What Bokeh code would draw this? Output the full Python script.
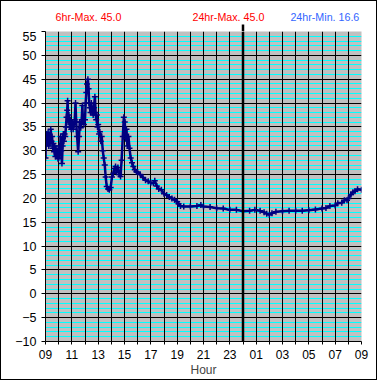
from bokeh.plotting import figure
from bokeh.models import FixedTicker, Arrow, ColumnDataSource
from bokeh.layouts import column
from bokeh.core.properties import value
from bokeh.embed import file_html
from bokeh.resources import INLINE

# Hours since 00:00 of day 1 (09 -> 33 = 09 next day)
hours = [9.00, 9.03, 9.07, 9.10, 9.15, 9.20, 9.25, 9.30, 9.35, 9.40, 9.45, 9.50, 9.55, 9.60,
         9.65, 9.70, 9.75, 9.80, 9.85, 9.90, 9.95, 10.00, 10.05, 10.10, 10.15, 10.20, 10.25,
         10.30, 10.35, 10.40, 10.45, 10.50, 10.55, 10.60, 10.65, 10.68, 10.72, 10.78, 10.85,
         10.90, 10.95, 11.00, 11.05, 11.10, 11.15, 11.22, 11.28, 11.33, 11.40, 11.48, 11.55,
         11.60, 11.68, 11.75, 11.80, 11.85, 11.92, 12.00, 12.05, 12.10, 12.15, 12.22, 12.27,
         12.32, 12.37, 12.42, 12.48, 12.55, 12.62, 12.68, 12.75, 12.80, 12.85, 12.90, 12.95,
         13.00, 13.07, 13.13, 13.20, 13.27, 13.35, 13.42, 13.50, 13.57, 13.65, 13.75, 13.85,
         13.95, 14.05, 14.15, 14.25, 14.32, 14.40, 14.50, 14.60, 14.70, 14.78, 14.87, 14.95,
         15.02, 15.08, 15.15, 15.22, 15.30, 15.38, 15.47, 15.57, 15.67, 15.78, 15.90, 16.00,
         16.20, 16.40, 16.60, 16.80, 17.00, 17.20, 17.30, 17.45, 17.60, 17.80, 18.00, 18.20,
         18.40, 18.60, 18.80, 19.00, 19.10, 19.25, 19.50, 20.00, 20.50, 20.80, 21.00, 21.50,
         22.00, 22.50, 23.00, 23.50, 24.00, 24.50, 24.90, 25.30, 25.60, 25.80, 26.00, 26.20,
         26.50, 27.00, 27.50, 28.00, 28.50, 29.00, 29.50, 30.00, 30.30, 30.60, 31.00, 31.20,
         31.50, 31.70, 31.90, 32.00, 32.20, 32.35, 32.50, 32.70, 33.00]
temps = [28.5, 33.0, 32.0, 33.5, 31.5, 33.8, 31.0, 32.5, 31.5, 34.5, 32.0, 33.0, 30.5, 31.5,
         29.8, 31.0, 28.8, 30.5, 29.0, 30.0, 28.3, 28.5, 31.0, 29.0, 33.0, 30.0, 27.3,
         31.0, 33.5, 32.0, 33.5, 33.0, 35.0, 37.0, 38.5, 40.5, 36.0, 37.5, 35.0,
         36.5, 34.5, 35.0, 36.0, 34.5, 35.5, 36.5, 40.0, 36.0, 33.0, 29.8, 33.0,
         36.0, 34.8, 36.5, 39.5, 36.0, 35.5, 36.5, 40.0, 42.2, 44.0, 45.0, 43.0,
         40.0, 39.0, 38.0, 40.0, 38.0, 37.5, 39.0, 41.3, 38.0, 36.5, 37.5, 35.0,
         35.5, 33.5, 34.0, 32.0, 33.0, 30.0, 28.5, 27.0, 24.5, 22.5, 22.0, 21.8,
         22.3, 24.5, 25.3, 26.3, 26.7, 25.5, 26.5, 25.0, 24.6, 28.0, 33.0, 37.0,
         36.0, 32.5, 34.5, 31.0, 33.0, 30.5, 28.5, 27.5, 26.7, 26.0, 25.6, 25.5,
         25.0, 24.4, 23.8, 23.6, 23.3, 23.2, 23.7, 22.6, 22.0, 21.8, 21.0, 20.7,
         20.3, 20.0, 19.7, 19.3, 18.9, 18.4, 18.3, 18.3, 18.4, 18.6, 18.3, 18.2,
         17.95, 17.9, 17.6, 17.6, 17.3, 17.4, 17.6, 17.4, 17.1, 16.8, 16.6, 16.9,
         17.2, 17.3, 17.4, 17.4, 17.4, 17.5, 17.7, 17.9, 18.0, 18.4, 18.5, 19.0,
         19.1, 19.6, 19.6, 20.0, 20.8, 21.3, 21.5, 21.9, 21.8]

x_ticks = list(range(9, 34))
x_tick_labels = ["09", "", "11", "", "13", "", "15", "", "17", "", "19", "", "21", "",
                 "23", "", "01", "", "03", "", "05", "", "07", "", "09"]
y_ticks = list(range(-10, 56, 5))
y_minor = [v for v in range(-10, 56) if v % 5 != 0]

stat_texts = ["6hr-Max. 45.0", "24hr-Max. 45.0", "24hr-Min. 16.6"]
stat_colors = ["#FF0000", "#FF0000", "#3366FF"]
midnight = 24

FONT = "Liberation Sans"
W = 375
BL, BR = 44, 15
HEAD_H = 30

# ---------- header strip with the statistics ----------
head = figure(width=W, height=HEAD_H, x_range=(9, 33), y_range=(0, HEAD_H),
              output_backend="svg", toolbar_location=None,
              x_axis_type=None, y_axis_type=None,
              min_border_left=BL, min_border_right=BR, min_border_top=0, min_border_bottom=0)
head.outline_line_color = None
head.background_fill_color = "white"
head.border_fill_color = "white"
head.xgrid.visible = False
head.ygrid.visible = False
src = ColumnDataSource(dict(x=[9.76, 20.16, 27.6], y=[15, 15, 15],
                            text=stat_texts, color=stat_colors))
head.text(x="x", y="y", text="text", text_color="color", source=src,
          text_font=value(FONT), text_font_size=value("10.7px"),
          text_baseline="middle", text_align="left")
head.segment(x0=[midnight], y0=[0], x1=[midnight], y1=[7], line_color="black", line_width=2.5)

# ---------- main chart ----------
p = figure(width=W, height=378 - HEAD_H, x_range=head.x_range, y_range=(-10, 55),
           output_backend="svg", toolbar_location=None,
           min_border_left=BL, min_border_right=BR, min_border_top=0, min_border_bottom=37)
p.background_fill_color = "#C0C0C0"
p.border_fill_color = "white"
p.outline_line_color = None

# x axis
p.xaxis.ticker = FixedTicker(ticks=x_ticks)
p.xaxis.major_label_overrides = {t: l for t, l in zip(x_ticks, x_tick_labels)}
p.xaxis.major_tick_out = 3
p.xaxis.major_tick_in = 0
p.xaxis.minor_tick_line_color = None
p.xaxis.axis_line_color = "black"
p.xaxis.major_label_standoff = 5
p.xaxis.major_label_text_font = FONT
p.xaxis.major_label_text_font_size = "12px"
p.xaxis.major_label_text_color = "black"
p.xaxis.axis_label = "Hour"
p.xaxis.axis_label_text_font = FONT
p.xaxis.axis_label_text_font_size = "12px"
p.xaxis.axis_label_text_font_style = "normal"
p.xaxis.axis_label_standoff = 1

# y axis
p.yaxis.ticker = FixedTicker(ticks=y_ticks)
p.yaxis.major_tick_out = 4
p.yaxis.major_tick_in = 0
p.yaxis.minor_tick_line_color = None
p.yaxis.major_label_standoff = 5
p.yaxis.major_label_text_font = FONT
p.yaxis.major_label_text_font_size = "12.5px"
p.yaxis.major_label_text_color = "black"

# grids: horizontal drawn first, vertical black lines on top
p.ygrid.ticker = FixedTicker(ticks=y_ticks, minor_ticks=y_minor)
p.ygrid.grid_line_color = "black"
p.ygrid.grid_line_width = 1
p.ygrid.minor_grid_line_color = "#00FFFF"
p.ygrid.minor_grid_line_width = 1
p.ygrid.level = "image"
p.xgrid.ticker = FixedTicker(ticks=list(range(10, 33)))
p.xgrid.grid_line_color = "black"
p.xgrid.grid_line_width = 1
p.xgrid.level = "underlay"

# data
p.line(hours, temps, line_color="#000080", line_width=2.5)
p.scatter(hours, temps, marker="cross", size=6, line_color="#000080", line_width=1.5)

# midnight line (continues below the axis)
p.add_layout(Arrow(x_start=midnight, y_start=-12.3, x_end=midnight, y_end=55,
                   start=None, end=None, line_color="black", line_width=2.5))

layout = column(head, p, spacing=0, styles={"border": "1px solid black"})
open("out.html", "w").write(file_html(layout, INLINE))
